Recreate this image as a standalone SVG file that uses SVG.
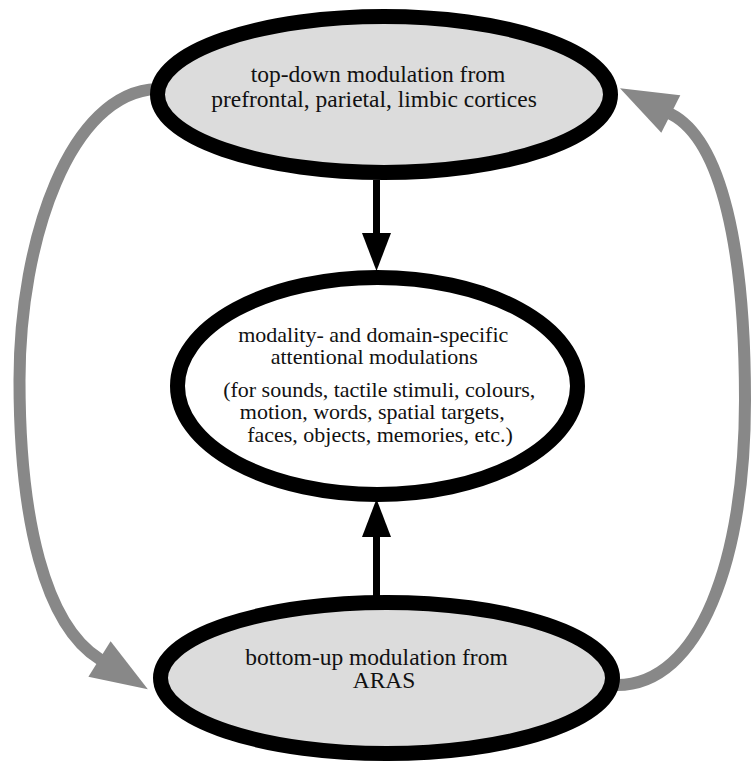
<svg xmlns="http://www.w3.org/2000/svg" width="751" height="763" viewBox="0 0 751 763">
  <style>
    .node { stroke: #000; stroke-width: 15; }
    .shaded { fill: #dcdcdc; }
    .plain { fill: #fff; }
    .label { font-family: 'Liberation Serif', 'Times New Roman', serif; font-size: 23.5px; fill: #111; text-anchor: middle; }
    .small { font-size: 22px; }
    .black { stroke: #000; stroke-width: 7; fill: none; }
    .gray { stroke: #888; stroke-width: 12; fill: none; stroke-linecap: round; }
  </style>
  <defs>
    <marker id="blackHead" markerUnits="userSpaceOnUse" markerWidth="40" markerHeight="30" refX="0" refY="14.5" orient="auto" overflow="visible">
      <path d="M0,0 L38,14.5 L0,29 Z" fill="#000"/>
    </marker>
    <marker id="grayHead" markerUnits="userSpaceOnUse" markerWidth="60" markerHeight="44" refX="0" refY="21" orient="auto" overflow="visible">
      <path d="M0,0 L57,21 L0,42 Z" fill="#888"/>
    </marker>
  </defs>

  <g id="connectors">
    <path class="black" d="M376.5,180 L376.5,233" marker-end="url(#blackHead)"/>
    <path class="black" d="M376.5,597 L376.5,537" marker-end="url(#blackHead)"/>
    <path class="gray" d="M157,89 C70,92 19.5,240 19.5,380 C19.5,520 45,625 99.5,659" marker-end="url(#grayHead)"/>
    <path class="gray" d="M617,685 C700,685 745,560 745,400 C745,250 722,140 670.8,114" marker-end="url(#grayHead)"/>
  </g>

  <g id="top-down">
    <ellipse class="node shaded" cx="384" cy="94.5" rx="226.5" ry="78"/>
    <text class="label"><tspan x="378" y="82">top-down modulation from</tspan><tspan x="374" y="107">prefrontal, parietal, limbic cortices</tspan></text>
  </g>

  <g id="attentional">
    <ellipse class="node plain" cx="377.5" cy="386" rx="200" ry="108.5"/>
    <text class="label small">
      <tspan x="376" y="342">modality- and domain-specific</tspan>
      <tspan x="377" y="364">attentional modulations</tspan>
      <tspan x="382" y="397">(for sounds, tactile stimuli, colours,</tspan>
      <tspan x="375" y="419">motion, words, spatial targets,</tspan>
      <tspan x="380" y="442">faces, objects, memories, etc.)</tspan>
    </text>
  </g>

  <g id="bottom-up">
    <ellipse class="node shaded" cx="386.5" cy="678" rx="226" ry="75.5"/>
    <text class="label"><tspan x="376.5" y="665">bottom-up modulation from</tspan><tspan x="384" y="688">ARAS</tspan></text>
  </g>
</svg>
